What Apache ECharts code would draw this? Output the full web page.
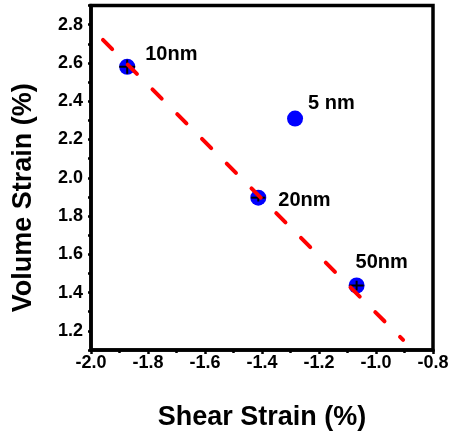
<!DOCTYPE html>
<html>
<head>
<meta charset="utf-8">
<script src="https://cdn.jsdelivr.net/npm/echarts@6/dist/echarts.min.js"></script>
<style>
  html, body { margin: 0; padding: 0; background: #fff; }
  #chart { width: 453px; height: 439px; }
</style>
</head>
<body>
<div id="chart"></div>
<script>
// sample points
var sizeNames = ['10nm', '5 nm', '20nm', '50nm'];
var shearStrain = [-1.873, -1.284, -1.413, -1.068];
var volumeStrain = [2.58, 2.309, 1.896, 1.437];
var shearErr = [0.028, 0, 0.025, 0.025];
var volumeErr = [0.037, 0, 0.02, 0.025];

// dashed fit line end points
var fitX = [-1.958, -0.905];
var fitY = [2.72, 1.153];

var font = '"Liberation Sans", Arial, sans-serif';

var myChart = echarts.init(document.getElementById('chart'));

// label placement next to each dot
var labelOffsets = [[5, -12], [0, -15], [7, 3], [-14, -23]];

var points = [];
for (var i = 0; i < sizeNames.length; i++) {
  points.push({
    name: sizeNames[i],
    value: [shearStrain[i], volumeStrain[i]],
    label: { offset: labelOffsets[i] }
  });
}
var errData = [];
for (var j = 0; j < sizeNames.length; j++) {
  errData.push([shearStrain[j], volumeStrain[j], shearErr[j], volumeErr[j]]);
}
var fitData = [];
for (var k = 0; k < fitX.length; k++) {
  fitData.push([fitX[k], fitY[k]]);
}

var option = {
  animation: false,
  grid: {
    left: 91, right: 20, top: 5.5, bottom: 89,
    show: true, borderColor: '#000', borderWidth: 3.5
  },
  xAxis: {
    type: 'value',
    min: -2.0, max: -0.8, interval: 0.2,
    name: 'Shear Strain (%)',
    nameLocation: 'middle',
    nameGap: 54,
    nameTextStyle: { fontFamily: font, fontWeight: 'bold', fontSize: 27, color: '#000' },
    axisLine: { lineStyle: { color: '#000', width: 3.5 } },
    axisTick: { length: 4, lineStyle: { color: '#000', width: 2.5 } },
    minorTick: { show: true, splitNumber: 2, length: 3, lineStyle: { color: '#000', width: 2.5 } },
    splitLine: { show: false },
    axisLabel: {
      margin: 4,
      fontFamily: font, fontWeight: 'bold', fontSize: 18, color: '#000',
      formatter: function (v) { return v.toFixed(1); }
    }
  },
  yAxis: {
    type: 'value',
    min: 1.1, max: 2.9, interval: 0.1,
    name: 'Volume Strain (%)',
    nameLocation: 'middle',
    nameGap: 54,
    nameTextStyle: {
      fontFamily: font, fontWeight: 'bold', fontSize: 27, color: '#000',
      padding: [0, 40, 0, 0]
    },
    axisLine: { lineStyle: { color: '#000', width: 3.5 } },
    axisTick: { length: 3, lineStyle: { color: '#000', width: 2.5 } },
    splitLine: { show: false },
    axisLabel: {
      margin: 8,
      fontFamily: font, fontWeight: 'bold', fontSize: 18, color: '#000',
      formatter: function (v) {
        return Math.round(v * 10) % 2 === 0 ? v.toFixed(1) : '';
      }
    }
  },
  series: [
    {
      type: 'scatter',
      symbol: 'circle',
      symbolSize: 16,
      itemStyle: { color: '#0000ff', opacity: 1 },
      label: {
        show: true,
        position: 'right',
        formatter: '{b}',
        fontFamily: font, fontWeight: 'bold', fontSize: 20, color: '#000'
      },
      data: points,
      z: 2
    },
    {
      type: 'custom',
      z: 3,
      renderItem: function (params, api) {
        var x = api.value(0), y = api.value(1);
        var dx = api.value(2), dy = api.value(3);
        var kids = [];
        if (dx > 0) {
          var a = api.coord([x - dx, y]), b = api.coord([x + dx, y]);
          kids.push({ type: 'line', shape: { x1: a[0], y1: a[1], x2: b[0], y2: b[1] },
            style: { stroke: '#000', lineWidth: 2 } });
        }
        if (dy > 0) {
          var c = api.coord([x, y - dy]), d = api.coord([x, y + dy]);
          kids.push({ type: 'line', shape: { x1: c[0], y1: c[1], x2: d[0], y2: d[1] },
            style: { stroke: '#000', lineWidth: 2 } });
        }
        return { type: 'group', children: kids };
      },
      data: errData
    },
    {
      type: 'line',
      symbol: 'none',
      z: 4,
      lineStyle: { color: '#ff0000', width: 4, type: [13, 22], cap: 'round' },
      data: fitData
    }
  ]
};

myChart.setOption(option);
</script>
</body>
</html>
